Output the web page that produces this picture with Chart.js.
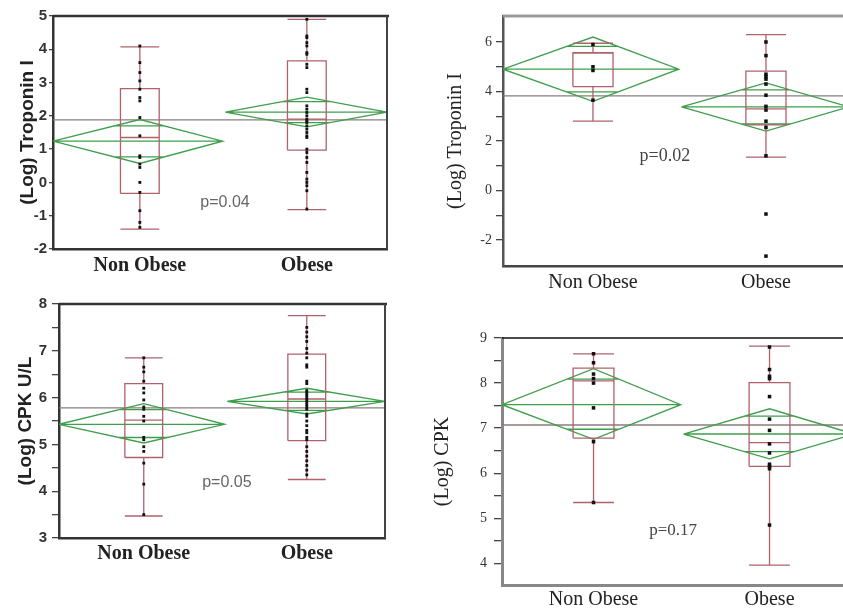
<!DOCTYPE html>
<html>
<head>
<meta charset="utf-8">
<script src="https://cdn.jsdelivr.net/npm/chart.js@4.4.0/dist/chart.umd.min.js"></script>
<style>
  html, body { margin: 0; padding: 0; background: #fff; overflow: hidden; }
  #page { position: relative; width: 843px; height: 610px; overflow: hidden; }
  #page canvas { position: absolute; }
</style>
</head>
<body>
<div id="page">
  <canvas id="tropLeft" width="400" height="290" style="left:0;top:0"></canvas>
  <canvas id="tropRight" width="440" height="300" style="left:420px;top:0"></canvas>
  <canvas id="cpkLeft" width="400" height="320" style="left:0;top:290px"></canvas>
  <canvas id="cpkRight" width="440" height="310" style="left:420px;top:300px"></canvas>
</div>
<script>
const groups = ["Non Obese", "Obese"];

// boxes: [whisker low, Q1, median, Q3, whisker high] for Non Obese, Obese
// means: [lower 95% CI, mean, upper 95% CI]
const tropLeftBoxes = [[-1.4, -0.33, 1.35, 2.82, 4.07], [-0.82, 0.97, 1.9, 3.65, 4.9]];
const tropLeftMeans = [[0.57, 1.24, 1.89], [1.67, 2.11, 2.56]];
const tropLeftGrandMean = 1.88;
const tropLeftNonObese = [4.1, 3.6, 3.3, 3.05, 2.8, 2.55, 2.45, 1.95, 1.4, 0.8, 0.75, 0.55, 0.45, 0.0, -0.3, -0.85, -1.2, -1.35];
const tropLeftObese = [4.9, 4.4, 4.35, 4.2, 4.1, 3.9, 3.85, 3.55, 3.45, 2.8, 2.7, 2.3, 2.2, 2.1, 2.0, 1.9, 1.85, 1.8, 1.7, 1.6, 1.5, 1.4, 1.35, 1.0, 0.9, 0.75, 0.6, 0.3, 0.1, 0.0, -0.1, -0.25, -0.8];
const tropLeftTicks = [-2, -1, 0, 1, 2, 3, 4, 5];
const tropLeftTickLabels = [-2, -1, 0, 1, 2, 3, 4, 5];

const tropRightBoxes = [[2.8, 4.2, 5.55, 5.57, 5.95], [1.35, 2.65, 3.3, 4.82, 6.3]];
const tropRightMeans = [[3.6, 4.9, 6.2], [2.4, 3.38, 4.35]];
const tropRightGrandMean = 3.82;
const tropRightNonObese = [5.9, 5.0, 4.85, 3.65];
const tropRightObese = [6.0, 5.45, 4.7, 4.6, 4.5, 4.3, 3.85, 3.4, 3.25, 2.8, 2.55, 1.4, -0.95, -2.65];
const tropRightTicks = [-2, -1, 0, 1, 2, 3, 4, 5, 6];
const tropRightTickLabels = [-2, 0, 2, 4, 6];

const cpkLeftBoxes = [[3.47, 4.72, 5.52, 6.3, 6.85], [4.25, 5.08, 5.97, 6.93, 7.75]];
const cpkLeftMeans = [[5.03, 5.43, 5.87], [5.65, 5.92, 6.2]];
const cpkLeftGrandMean = 5.78;
const cpkLeftNonObese = [6.85, 6.65, 6.55, 6.35, 6.2, 6.1, 5.95, 5.8, 5.75, 5.6, 5.5, 5.15, 5.1, 4.95, 4.85, 4.6, 4.15, 3.5];
const cpkLeftObese = [7.5, 7.4, 7.3, 7.2, 7.05, 6.95, 6.85, 6.7, 6.65, 6.35, 6.3, 6.15, 6.1, 6.05, 6.0, 5.95, 5.9, 5.85, 5.8, 5.75, 5.65, 5.6, 5.5, 5.4, 5.3, 5.25, 5.15, 5.1, 4.95, 4.85, 4.75, 4.65, 4.55, 4.45, 4.35];
const cpkLeftTicks = [3, 3.5, 4, 4.5, 5, 5.5, 6, 6.5, 7, 7.5, 8];
const cpkLeftTickLabels = [3, 4, 5, 6, 7, 8];

const cpkRightBoxes = [[5.35, 6.78, 8.05, 8.33, 8.65], [3.96, 6.15, 6.68, 8.01, 8.82]];
const cpkRightMeans = [[6.75, 7.52, 8.32], [6.32, 6.87, 7.43]];
const cpkRightGrandMean = 7.07;
const cpkRightNonObese = [8.65, 8.45, 8.2, 8.1, 8.0, 7.45, 6.7, 5.35];
const cpkRightObese = [8.8, 8.3, 8.15, 8.1, 7.7, 7.2, 6.95, 6.65, 6.45, 6.2, 6.15, 6.1, 4.85];
const cpkRightTicks = [4, 4.5, 5, 5.5, 6, 6.5, 7, 7.5, 8, 8.5, 9];
const cpkRightTickLabels = [4, 5, 6, 7, 8, 9];

// horizontal layout of the two groups on a 0..1 x axis
const boxCenters = [0.26, 0.76];
const diamondSpans = [[0, 0.508], [0.516, 1]];
const boxHalf = 0.058;

const boxColor = "#b0626c";
const meanColor = "#3f9e4c";
const grandColor = "#8a7d7d";

const gap = () => ({ x: null, y: null });

function boxPath(b, cx) {
    const [lo, q1, med, q3, hi] = b;
    const l = cx - boxHalf, r = cx + boxHalf;
    return [
        { x: l, y: q1 }, { x: r, y: q1 }, { x: r, y: q3 }, { x: l, y: q3 }, { x: l, y: q1 }, gap(),
        { x: l, y: med }, { x: r, y: med }, gap(),
        { x: cx, y: q3 }, { x: cx, y: hi }, gap(),
        { x: l, y: hi }, { x: r, y: hi }, gap(),
        { x: cx, y: q1 }, { x: cx, y: lo }, gap(),
        { x: l, y: lo }, { x: r, y: lo },
    ];
}

function diamondPath(m, span, cx) {
    const [lo, mean, hi] = m;
    const [x0, x1] = span;
    const k = 1 - Math.SQRT1_2; // overlap marks at mean +/- ci / sqrt(2)
    const up = mean + (hi - mean) * Math.SQRT1_2;
    const dn = mean - (mean - lo) * Math.SQRT1_2;
    return [
        { x: x0, y: mean }, { x: cx, y: hi }, { x: x1, y: mean }, { x: cx, y: lo }, { x: x0, y: mean }, gap(),
        { x: x0, y: mean }, { x: x1, y: mean }, gap(),
        { x: cx - (cx - x0) * k, y: up }, { x: cx + (x1 - cx) * k, y: up }, gap(),
        { x: cx - (cx - x0) * k, y: dn }, { x: cx + (x1 - cx) * k, y: dn },
    ];
}

// top / right frame lines of the plot box
const framePlugin = {
    id: "frame",
    afterDraw(chart, args, opts) {
        const { ctx, chartArea: a } = chart;
        ctx.save();
        if (opts.top) {
            ctx.strokeStyle = opts.top.color;
            ctx.lineWidth = opts.top.width;
            ctx.beginPath(); ctx.moveTo(a.left, a.top); ctx.lineTo(a.right + 2, a.top); ctx.stroke();
        }
        if (opts.right) {
            ctx.strokeStyle = opts.right.color;
            ctx.lineWidth = opts.right.width;
            ctx.beginPath(); ctx.moveTo(a.right, a.top); ctx.lineTo(a.right, a.bottom); ctx.stroke();
        }
        ctx.restore();
    },
};

const pLabelPlugin = {
    id: "pLabel",
    afterDatasetsDraw(chart, args, opts) {
        if (!opts.text) return;
        const { ctx, scales } = chart;
        ctx.save();
        ctx.font = opts.font;
        ctx.fillStyle = opts.color;
        ctx.textAlign = "center";
        ctx.textBaseline = "middle";
        ctx.fillText(opts.text, scales.x.getPixelForValue(opts.x), scales.y.getPixelForValue(opts.y));
        ctx.restore();
    },
};

Chart.register(framePlugin, pLabelPlugin);

function drawPanel(id, c) {
    const datasets = [];
    [c.nonObese, c.obese].forEach((vals, g) => {
        datasets.push({
            data: vals.map(v => ({ x: boxCenters[g], y: v })),
            showLine: false, pointStyle: "rect", pointRadius: c.pointRadius,
            backgroundColor: "#111", borderWidth: 0,
        });
    });
    c.boxes.forEach((b, g) => {
        datasets.push({
            data: boxPath(b, boxCenters[g]), showLine: true, pointRadius: 0,
            borderColor: boxColor, borderWidth: 1.3, fill: false,
        });
    });
    c.means.forEach((m, g) => {
        datasets.push({
            data: diamondPath(m, diamondSpans[g], boxCenters[g]), showLine: true, pointRadius: 0,
            borderColor: meanColor, borderWidth: 1.3, fill: false,
        });
    });
    datasets.push({
        data: [{ x: 0, y: c.grandMean }, { x: 1, y: c.grandMean }], showLine: true, pointRadius: 0,
        borderColor: grandColor, borderWidth: 1.3, fill: false,
    });

    new Chart(document.getElementById(id), {
        type: "scatter",
        data: { datasets },
        options: {
            responsive: false,
            animation: false,
            events: [],
            layout: { padding: { left: 0, right: c.padRight, top: c.padTop, bottom: 0 } },
            plugins: {
                legend: { display: false },
                tooltip: { enabled: false },
                frame: c.frame,
                pLabel: c.pLabel,
            },
            scales: {
                x: {
                    type: "linear", min: 0, max: 1,
                    afterBuildTicks: s => { s.ticks = boxCenters.map(v => ({ value: v })); },
                    afterFit: s => { s.height = c.xAxisHeight; },
                    ticks: {
                        autoSkip: false, maxRotation: 0, padding: c.xPad, color: "#222", font: c.xFont,
                        callback: (v, i) => groups[i],
                    },
                    grid: { display: false, drawTicks: false },
                    border: c.bottomBorder,
                },
                y: {
                    min: c.yMin, max: c.yMax,
                    afterBuildTicks: s => { s.ticks = c.ticks.map(v => ({ value: v })); },
                    afterFit: s => { s.width = c.yAxisWidth; },
                    ticks: {
                        autoSkip: false, padding: c.tickPad, color: "#333", font: c.tickFont,
                        callback: v => (c.tickLabels.includes(v) ? String(v) : ""),
                    },
                    grid: { drawOnChartArea: false, drawTicks: true, tickLength: c.tickLength, color: "#444", lineWidth: 1.3 },
                    border: c.leftBorder,
                    title: {
                        display: true, text: c.title, color: "#222", font: c.titleFont,
                        padding: { top: c.titlePad, bottom: 0 },
                    },
                },
            },
        },
    });
}

const sansBold = s => ({ family: "Liberation Sans", size: s, weight: "bold" });
const serifBold = s => ({ family: "Liberation Serif", size: s, weight: "bold" });
const serif = s => ({ family: "Liberation Serif", size: s, weight: "normal" });

drawPanel("tropLeft", {
    boxes: tropLeftBoxes, means: tropLeftMeans, grandMean: tropLeftGrandMean,
    nonObese: tropLeftNonObese, obese: tropLeftObese,
    ticks: tropLeftTicks, tickLabels: tropLeftTickLabels, yMin: -2, yMax: 5,
    padTop: 16, padRight: 13, yAxisWidth: 53, xAxisHeight: 41,
    tickFont: sansBold(15), tickLength: 4, tickPad: 2,
    title: "(Log) Troponin I", titleFont: sansBold(19), titlePad: 16,
    xFont: serifBold(20), xPad: 5, pointRadius: 2,
    leftBorder: { color: "#333", width: 2.5 }, bottomBorder: { color: "#333", width: 2.5 },
    frame: { top: { color: "#333", width: 2.5 }, right: { color: "#444", width: 2 } },
    pLabel: { text: "p=0.04", x: 0.515, y: -0.62, font: "16px 'Liberation Sans'", color: "#666" },
});

drawPanel("tropRight", {
    boxes: tropRightBoxes, means: tropRightMeans, grandMean: tropRightGrandMean,
    nonObese: tropRightNonObese, obese: tropRightObese,
    ticks: tropRightTicks, tickLabels: tropRightTickLabels, yMin: -3.05, yMax: 7.05,
    padTop: 16, padRight: 11, yAxisWidth: 83, xAxisHeight: 34,
    tickFont: serif(14), tickLength: 7, tickPad: 4,
    title: "(Log) Troponin I", titleFont: serif(20), titlePad: 24,
    xFont: serif(20), xPad: 5, pointRadius: 2.5,
    leftBorder: { color: "#555", width: 2.5 }, bottomBorder: { color: "#444", width: 2.5 },
    frame: { top: { color: "#999", width: 3 } },
    pLabel: { text: "p=0.02", x: 0.468, y: 1.37, font: "18px 'Liberation Serif'", color: "#444" },
});

drawPanel("cpkLeft", {
    boxes: cpkLeftBoxes, means: cpkLeftMeans, grandMean: cpkLeftGrandMean,
    nonObese: cpkLeftNonObese, obese: cpkLeftObese,
    ticks: cpkLeftTicks, tickLabels: cpkLeftTickLabels, yMin: 3, yMax: 8,
    padTop: 14, padRight: 15, yAxisWidth: 59, xAxisHeight: 72,
    tickFont: sansBold(15), tickLength: 7, tickPad: 5,
    title: "(Log) CPK U/L", titleFont: sansBold(19), titlePad: 14,
    xFont: serifBold(20), xPad: 4, pointRadius: 2,
    leftBorder: { color: "#333", width: 2.5 }, bottomBorder: { color: "#333", width: 2.5 },
    frame: { top: { color: "#333", width: 2.5 }, right: { color: "#444", width: 2 } },
    pLabel: { text: "p=0.05", x: 0.515, y: 4.18, font: "16px 'Liberation Sans'", color: "#666" },
});

drawPanel("cpkRight", {
    boxes: cpkRightBoxes, means: cpkRightMeans, grandMean: cpkRightGrandMean,
    nonObese: cpkRightNonObese, obese: cpkRightObese,
    ticks: cpkRightTicks, tickLabels: cpkRightTickLabels, yMin: 3.52, yMax: 9,
    padTop: 38, padRight: 6, yAxisWidth: 82, xAxisHeight: 25,
    tickFont: serif(14), tickLength: 8, tickPad: 7,
    title: "(Log) CPK", titleFont: serif(20), titlePad: 11,
    xFont: serif(20), xPad: 3, pointRadius: 2.5,
    leftBorder: { color: "#888", width: 3 }, bottomBorder: { color: "#888", width: 3 },
    frame: { top: { color: "#111", width: 1.5 } },
    pLabel: { text: "p=0.17", x: 0.486, y: 4.73, font: "17px 'Liberation Serif'", color: "#444" },
});
</script>
</body>
</html>
